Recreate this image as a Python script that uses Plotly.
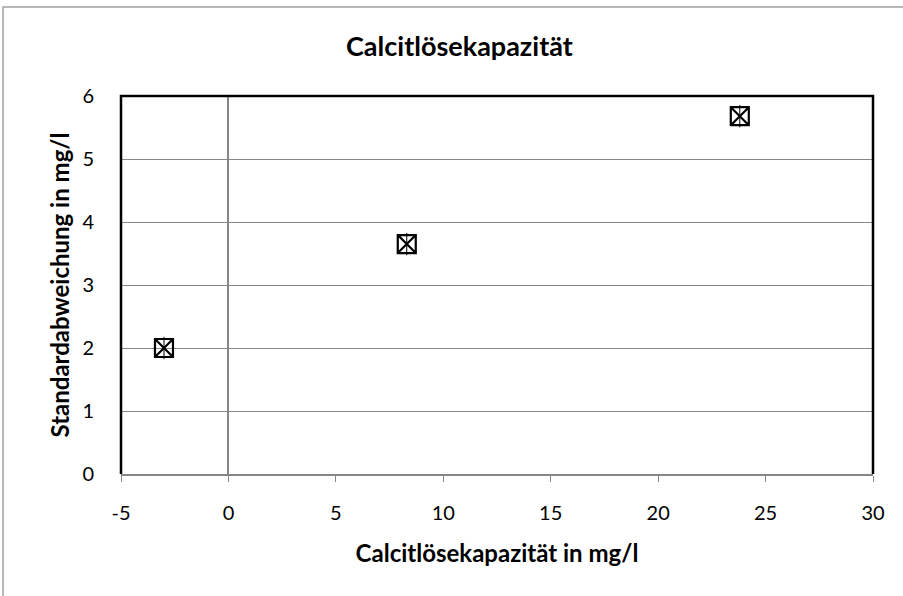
import plotly.graph_objects as go

# Calcitlösekapazität vs. Standardabweichung
calcit_mg_l = [-3.0, 8.3, 23.8]
std_mg_l = [2.0, 3.65, 5.68]

x_ticks = [-5, 0, 5, 10, 15, 20, 25, 30]
y_ticks = [0, 1, 2, 3, 4, 5, 6]

title_text = 'Calcitlösekapazität'
x_title = 'Calcitlösekapazität in mg/l'
y_title = 'Standardabweichung in mg/l'

FONT = 'Lato'
GRAY = '#868686'

W, H = 903, 596
L, R, T, B = 121, 30, 96, 122
pw, ph = W - L - R, H - T - B


def px_x(px):
    return (px - L) / pw


def px_y(py):
    return (H - B - py) / ph


fig = go.Figure()
# box with diagonal cross
fig.add_trace(go.Scatter(x=calcit_mg_l, y=std_mg_l, mode='markers',
                         marker=dict(symbol='square-x-open', size=18, color='black',
                                     line=dict(color='black', width=2.2)),
                         showlegend=False, hoverinfo='x+y'))
# vertical stroke inside the box
fig.add_trace(go.Scatter(x=calcit_mg_l, y=std_mg_l, mode='markers',
                         marker=dict(symbol='line-ns-open', size=16, color='black',
                                     line=dict(color='black', width=1)),
                         showlegend=False, hoverinfo='skip'))

fig.update_layout(
    width=W, height=H,
    margin=dict(l=L, r=R, t=T, b=B, pad=0),
    paper_bgcolor='white', plot_bgcolor='white',
    font=dict(family=FONT, size=20, color='black'),
    xaxis=dict(range=[-5, 30], tickvals=x_ticks, ticktext=[str(v) for v in x_ticks],
               showgrid=False, zeroline=True, zerolinecolor=GRAY, zerolinewidth=2,
               showline=True, linecolor=GRAY, linewidth=2,
               ticks='outside', ticklen=6, tickcolor=GRAY, tickwidth=1,
               ticklabelstandoff=14,
               title=dict(text=x_title, font=dict(family=FONT, size=24, weight='bold'),
                          standoff=22)),
    yaxis=dict(range=[0, 6], tickvals=y_ticks, ticktext=[str(v) for v in y_ticks],
               showgrid=True, gridcolor=GRAY, gridwidth=1, zeroline=False,
               showline=False, ticks='', ticklabelstandoff=26,
               title=dict(text=y_title, font=dict(family=FONT, size=24, weight='bold'),
                          standoff=5)),
    shapes=[
        # black frame on left, top and right of the plot area
        dict(type='path', xref='paper', yref='paper', path='M0,0 L0,1 L1,1 L1,0',
             line=dict(color='black', width=2.5), layer='above'),
        # outer chart border
        dict(type='path', xref='paper', yref='paper',
             path=f'M{px_x(3)},{px_y(640)} L{px_x(3)},{px_y(7)} L{px_x(960)},{px_y(7)}',
             line=dict(color='#a0a0a0', width=1.5)),
    ],
    annotations=[dict(text=title_text, xref='paper', yref='paper',
                      x=px_x(459), y=px_y(45), xanchor='center', yanchor='middle',
                      showarrow=False, font=dict(family=FONT, size=27, weight='bold'))],
)

# drop the default body margin so the figure sits at the window corner
fig.write_html('out.html', config={'displayModeBar': False},
               post_script="document.body.style.margin='0';")
